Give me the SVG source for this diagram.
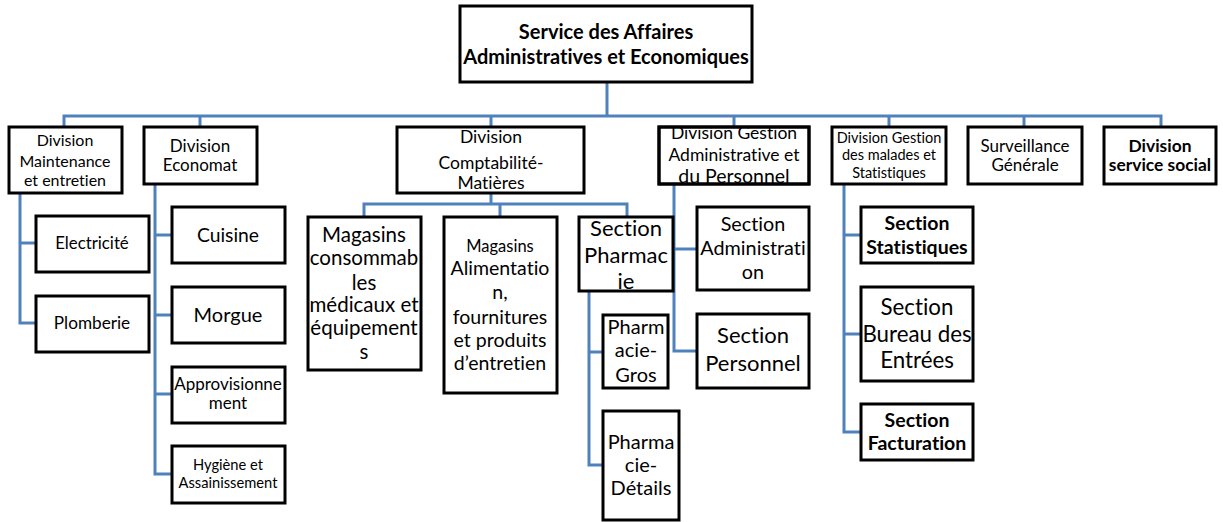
<svg xmlns="http://www.w3.org/2000/svg" width="1223" height="522" viewBox="0 0 1223 522">
<style>
.b{fill:#fff;stroke:#000;stroke-width:3}
.o{fill:none;stroke:#000;stroke-width:3}
text{font-family:Lato,"Liberation Sans",sans-serif;fill:#000;text-anchor:middle;font-variant-ligatures:none}
.bd{font-weight:bold}
.c{fill:none;stroke:#4F81BD;stroke-width:3}
</style>
<rect width="1223" height="522" fill="#fff"/>
<g id="connectors">
<path class="c" d="M607 82V116M64 127V116H1161V127M200 116V127M491 116V127M734 116V127M889 116V127M1024 116V127"/>
<path class="c" d="M20 193V323H36M20 243H36"/>
<path class="c" d="M155 184V474H172M155 235H172M155 315H172M155 394H172"/>
<path class="c" d="M491 193V204M364 217V204H627V217M500 204V217"/>
<path class="c" d="M589 291V465H603M589 352H603"/>
<path class="c" d="M674 184V351H697M674 249H697"/>
<path class="c" d="M844 184V432H861M844 235H861M844 334H861"/>
</g>
<g id="n-root"><rect class="b" x="460" y="6" width="292" height="76"/>
<text class="bd" font-size="20" x="606" y="39">Service des Affaires</text>
<text class="bd" font-size="20" x="606" y="64">Administratives et Economiques</text></g>
<g id="n-maint"><rect class="b" x="9" y="127" width="113" height="66"/>
<text font-size="16" x="65" y="146">Division</text>
<text font-size="16" x="65" y="167">Maintenance</text>
<text font-size="16" x="65" y="186">et entretien</text></g>
<g id="n-econ"><rect class="b" x="144" y="127" width="113" height="57"/>
<text font-size="17" x="200" y="152">Division</text>
<text font-size="17" x="200" y="171">Economat</text></g>
<g id="n-compta"><rect class="b" x="397" y="127" width="187" height="66"/>
<text font-size="17.5" x="491" y="143">Division</text>
<text font-size="17.5" x="491" y="169">Comptabilité-</text>
<text font-size="17.5" x="491" y="189">Matières</text></g>
<g id="n-gadmin"><rect class="b" x="659" y="127" width="150" height="57"/>
<text font-size="17.5" x="734" y="139">Division Gestion</text>
<text font-size="17.5" x="734" y="161">Administrative et</text>
<text font-size="19.5" x="734" y="183">du Personnel</text>
<rect class="o" x="659" y="127" width="150" height="57"/></g>
<g id="n-gmal"><rect class="b" x="832" y="127" width="114" height="57"/>
<text font-size="14.5" x="889" y="143">Division Gestion</text>
<text font-size="14.5" x="889" y="160">des malades et</text>
<text font-size="14.5" x="889" y="178">Statistiques</text></g>
<g id="n-surv"><rect class="b" x="968" y="127" width="114" height="57"/>
<text font-size="17" x="1025" y="152">Surveillance</text>
<text font-size="17" x="1025" y="171">Générale</text></g>
<g id="n-social"><rect class="b" x="1104" y="127" width="112" height="57"/>
<text class="bd" font-size="17.4" x="1160" y="152">Division</text>
<text class="bd" font-size="17.4" x="1160" y="171">service social</text></g>
<g id="n-elec"><rect class="b" x="36" y="216" width="113" height="56"/>
<text font-size="16.8" x="92" y="249">Electricité</text></g>
<g id="n-plomb"><rect class="b" x="36" y="296" width="113" height="56"/>
<text font-size="17.2" x="92" y="329">Plomberie</text></g>
<g id="n-cuis"><rect class="b" x="172" y="207" width="113" height="56"/>
<text font-size="19.3" x="228" y="242">Cuisine</text></g>
<g id="n-morg"><rect class="b" x="172" y="287" width="113" height="56"/>
<text font-size="20" x="228" y="322">Morgue</text></g>
<g id="n-appro"><rect class="b" x="172" y="367" width="113" height="56"/>
<text font-size="17" x="228" y="390">Approvisionne</text>
<text font-size="17" x="228" y="409">ment</text></g>
<g id="n-hyg"><rect class="b" x="172" y="446" width="113" height="57"/>
<text font-size="14.7" x="228" y="470">Hygiène et</text>
<text font-size="14.7" x="228" y="488">Assainissement</text></g>
<g id="n-mag1"><rect class="b" x="308" y="217" width="113" height="153"/>
<text font-size="20.5" x="364" y="242">Magasins</text>
<text font-size="20.5" x="364" y="265">consommab</text>
<text font-size="20.5" x="364" y="290">les</text>
<text font-size="20.5" x="364" y="312">médicaux et</text>
<text font-size="20.5" x="364" y="335">équipement</text>
<text font-size="20.5" x="364" y="359">s</text></g>
<g id="n-mag2"><rect class="b" x="444" y="217" width="113" height="176"/>
<text font-size="16.5" x="500" y="252">Magasins</text>
<text font-size="19.5" x="500" y="275">Alimentatio</text>
<text font-size="19.5" x="500" y="299">n,</text>
<text font-size="19.5" x="500" y="324">fournitures</text>
<text font-size="19.5" x="500" y="347">et produits</text>
<text font-size="19.5" x="500" y="370">d’entretien</text></g>
<g id="n-pharm"><rect class="b" x="579" y="217" width="94" height="74"/>
<text font-size="22" x="626" y="236">Section</text>
<text font-size="22" x="626" y="263">Pharmac</text>
<text font-size="22" x="626" y="289">ie</text></g>
<g id="n-pgros"><rect class="b" x="603" y="315" width="65" height="73"/>
<text font-size="20" x="636" y="334">Pharm</text>
<text font-size="20" x="636" y="357">acie-</text>
<text font-size="20" x="636" y="382">Gros</text></g>
<g id="n-pdet"><rect class="b" x="603" y="411" width="76" height="109"/>
<text font-size="20" x="641" y="449">Pharma</text>
<text font-size="20" x="641" y="472">cie-</text>
<text font-size="20" x="641" y="495">Détails</text></g>
<g id="n-sadmin"><rect class="b" x="697" y="207" width="112" height="83"/>
<text font-size="19.8" x="753" y="231">Section</text>
<text font-size="19.8" x="753" y="255">Administrati</text>
<text font-size="19.8" x="753" y="279">on</text></g>
<g id="n-spers"><rect class="b" x="697" y="314" width="112" height="74"/>
<text font-size="22" x="753" y="343">Section</text>
<text font-size="22" x="753" y="371">Personnel</text></g>
<g id="n-sstat"><rect class="b" x="861" y="207" width="112" height="56"/>
<text class="bd" font-size="19.5" x="917" y="230">Section</text>
<text class="bd" font-size="19.5" x="917" y="254">Statistiques</text></g>
<g id="n-sbur"><rect class="b" x="861" y="287" width="112" height="94"/>
<text font-size="22.3" x="917" y="315">Section</text>
<text font-size="22.3" x="917" y="342">Bureau des</text>
<text font-size="22.3" x="917" y="368">Entrées</text></g>
<g id="n-sfact"><rect class="b" x="861" y="404" width="112" height="56"/>
<text class="bd" font-size="19.5" x="917" y="427">Section</text>
<text class="bd" font-size="19.5" x="917" y="450">Facturation</text></g>
</svg>
